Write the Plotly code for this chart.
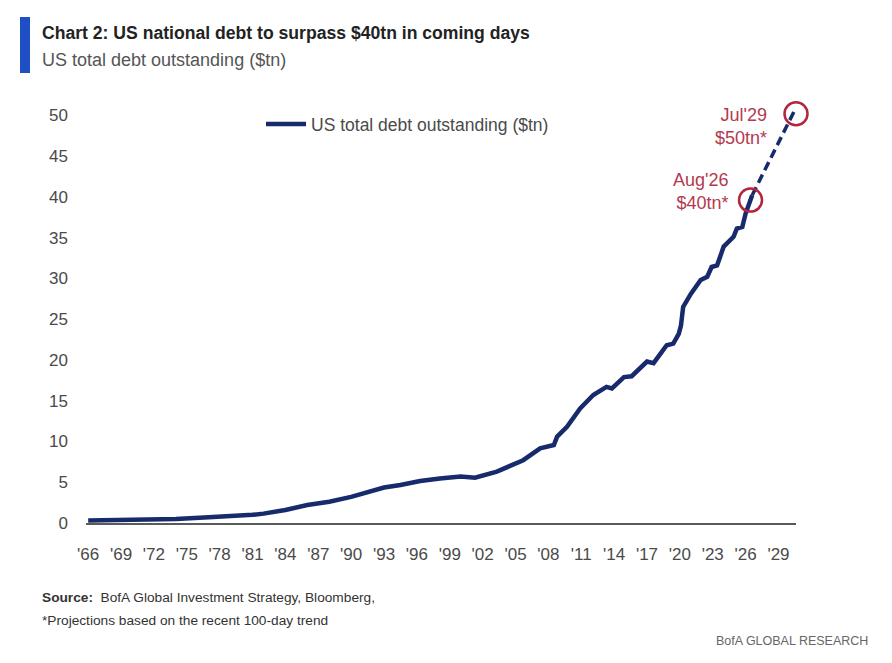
import plotly.graph_objects as go

# US total debt outstanding ($tn) (decimal years)
hist_years = [1966.0, 1970.0, 1974.0, 1977.0, 1979.0, 1981.0, 1982.0, 1984.0,
              1986.0, 1988.0, 1990.0, 1992.0, 1993.0, 1994.5, 1996.3, 1998.1,
              2000.0, 2001.3, 2002.0, 2003.3, 2004.5, 2005.7, 2007.25, 2008.5,
              2008.8, 2009.7, 2010.9, 2012.1, 2013.3, 2013.8, 2014.9, 2015.6,
              2017.0, 2017.6, 2018.8, 2019.4, 2019.9, 2020.1, 2020.3, 2021.0,
              2021.9, 2022.5, 2022.9, 2023.4, 2024.0, 2024.9, 2025.2, 2025.7,
              2026.0, 2026.6]
hist_debt = [0.32, 0.38, 0.50, 0.70, 0.80, 1.00, 1.15, 1.60,
             2.20, 2.60, 3.20, 4.00, 4.35, 4.66, 5.15, 5.47,
             5.70, 5.55, 5.80, 6.30, 7.00, 7.70, 9.15, 9.56,
             10.60, 11.80, 14.05, 15.70, 16.70, 16.50, 17.90, 18.00,
             19.80, 19.60, 21.80, 22.00, 23.20, 24.20, 26.50, 28.10,
             29.80, 30.20, 31.40, 31.60, 33.90, 35.10, 36.10, 36.30,
             37.95, 40.20]

proj_years = [2026.6, 2030.4]
proj_debt = [40.2, 50.4]

mark_years = [2026.45, 2030.6]
mark_debt = [39.6, 50.2]
mark_labels = ["Aug'26<br>$40tn*", "Jul'29<br>$50tn*"]
label_years = [2024.7, 2028.1]
label_debt = [40.6, 48.6]

tick_years = list(range(1966, 2030, 3))
tick_text = ["'" + str(y)[2:] for y in tick_years]

NAVY = "#172a6b"
RED = "#b3263f"
FONT = "Liberation Sans, Arial, sans-serif"

# the page puts the figure 8px in from the window corner
OFF = 8
L, R, T, B = 78, 96, 91, 140
W, H = 884, 655
PW, PH = W - L - R, H - T - B


def px(sx):
    return (sx - OFF - L) / PW


def py(sy):
    return (H - B - (sy - OFF)) / PH


fig = go.Figure()

fig.add_trace(go.Scatter(
    x=hist_years, y=hist_debt, mode="lines",
    line=dict(color=NAVY, width=4.5),
    name="US total debt outstanding ($tn)",
    cliponaxis=False,
))

fig.add_trace(go.Scatter(
    x=proj_years, y=proj_debt, mode="lines",
    line=dict(color=NAVY, width=3.5, dash="9px,5px"),
    showlegend=False, cliponaxis=False,
))

fig.add_trace(go.Scatter(
    x=mark_years, y=mark_debt, mode="markers",
    marker=dict(symbol="circle-open", size=23, color=RED, line=dict(width=2.5, color=RED)),
    showlegend=False, cliponaxis=False,
))

for lx, ly, txt in zip(label_years, label_debt, mark_labels):
    fig.add_annotation(
        x=lx, y=ly, text=txt, showarrow=False, xanchor="right", yanchor="middle",
        align="right", font=dict(family=FONT, size=18, color="#b23a4e"),
    )

# header
fig.add_shape(type="rect", xref="paper", yref="paper",
              x0=px(20), x1=px(30), y0=py(73), y1=py(17),
              fillcolor="#1f4fc4", line=dict(width=0))
fig.add_annotation(xref="paper", yref="paper", x=px(40), y=py(33),
                   xanchor="left", yanchor="middle", showarrow=False,
                   text="<b>Chart 2: US national debt to surpass $40tn in coming days</b>",
                   font=dict(family=FONT, size=17.6, color="#222222"))
fig.add_annotation(xref="paper", yref="paper", x=px(40), y=py(60),
                   xanchor="left", yanchor="middle", showarrow=False,
                   text="US total debt outstanding ($tn)",
                   font=dict(family=FONT, size=18, color="#555555"))

# footer
fig.add_annotation(xref="paper", yref="paper", x=px(40), y=py(597),
                   xanchor="left", yanchor="middle", showarrow=False,
                   text="<b>Source:</b>  BofA Global Investment Strategy, Bloomberg,",
                   font=dict(family=FONT, size=13.7, color="#333333"))
fig.add_annotation(xref="paper", yref="paper", x=px(40), y=py(620),
                   xanchor="left", yanchor="middle", showarrow=False,
                   text="*Projections based on the recent 100-day trend",
                   font=dict(family=FONT, size=13.7, color="#333333"))
fig.add_annotation(xref="paper", yref="paper", x=px(870), y=py(641),
                   xanchor="right", yanchor="middle", showarrow=False,
                   text="BofA GLOBAL RESEARCH",
                   font=dict(family=FONT, size=12.5, color="#666666"))

fig.update_layout(
    width=W, height=H,
    margin=dict(l=L, r=R, t=T, b=B),
    paper_bgcolor="white", plot_bgcolor="white",
    font=dict(family=FONT, size=17, color="#4a4a4a"),
    legend=dict(x=px(261), y=py(124), xanchor="left", yanchor="middle",
                bgcolor="rgba(0,0,0,0)", font=dict(size=17.5, color="#4a4a4a"),
                itemwidth=40),
)

fig.update_xaxes(
    range=[1965.8, 2030.6], tickmode="array", tickvals=tick_years, ticktext=tick_text,
    showgrid=False, zeroline=False, showline=True, linecolor="#5a5a5a", linewidth=2,
    ticks="", ticklabelstandoff=15, tickfont=dict(size=17, color="#4a4a4a"),
    automargin=False,
)
fig.update_yaxes(
    range=[0, 52], tickvals=list(range(0, 51, 5)),
    showgrid=False, zeroline=False, showline=False,
    ticks="", ticklabelstandoff=17, tickfont=dict(size=17, color="#4a4a4a"),
    automargin=False,
)

fig.write_html("out.html")
